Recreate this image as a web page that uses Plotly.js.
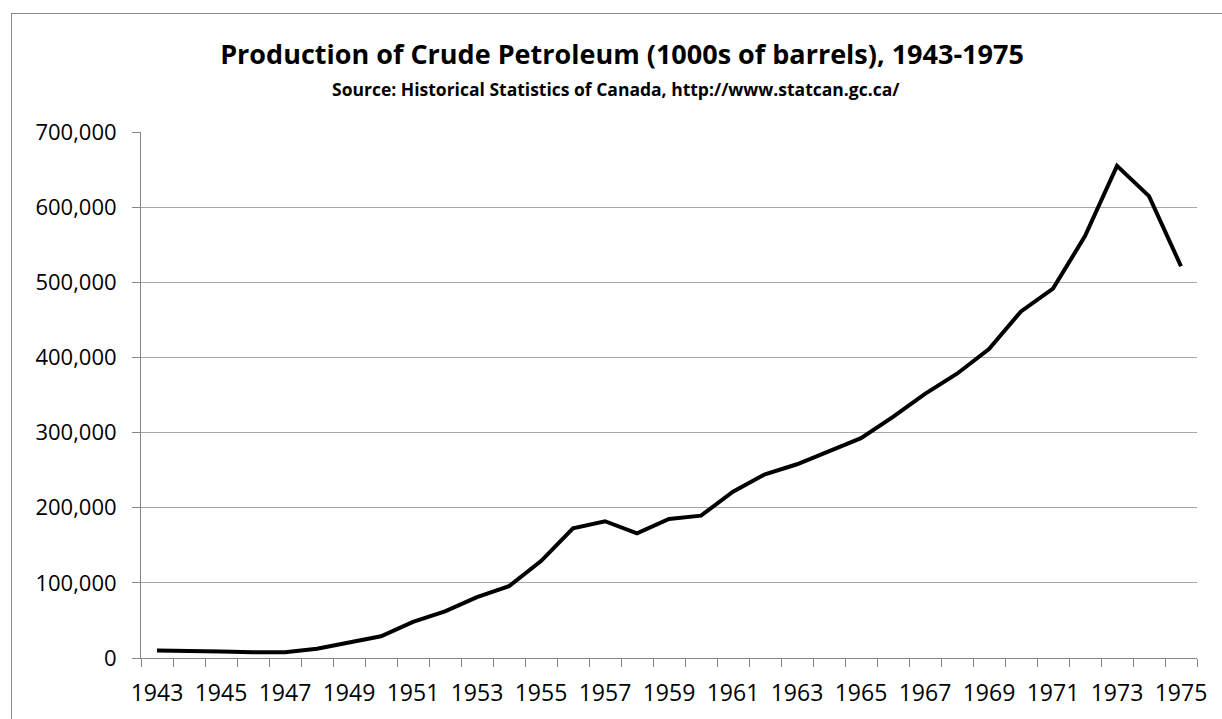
<!DOCTYPE html>
<html>
<head>
<meta charset="utf-8">
<script src="https://cdn.plot.ly/plotly-3.0.1.min.js"></script>
<style>
  html, body { margin: 0; padding: 0; background: #fff; }
  #wrap { position: relative; width: 1222px; height: 719px; overflow: hidden; }
  #chart { position: absolute; left: 0; top: 0; width: 1222px; height: 719px; }
  #frame { position: absolute; left: 11px; top: 13px; width: 1300px; height: 800px;
           border-left: 1px solid #8a8a8a; border-top: 1px solid #8a8a8a; pointer-events: none; }
</style>
</head>
<body>
<div id="wrap">
  <div id="chart"></div>
  <div id="frame"></div>
</div>
<script>
const years = ["1943","1944","1945","1946","1947","1948","1949","1950","1951","1952","1953",
               "1954","1955","1956","1957","1958","1959","1960","1961","1962","1963","1964",
               "1965","1966","1967","1968","1969","1970","1971","1972","1973","1974","1975"];
const production = [10000, 10000, 8700, 7500, 7600, 12400, 21300, 29000, 48000, 62000, 81000,
                    95600, 129000, 172500, 182000, 165800, 185000, 189400, 221400, 244500, 257800, 275600,
                    292500, 321000, 351600, 378300, 411000, 461300, 491600, 561400, 655000, 614700, 521400];
const tickLabels = years.map((y, i) => (i % 2 === 0 ? y : ""));
const titleText = "Production of Crude Petroleum (1000s of barrels), 1943-1975";
const subtitleText = "Source: Historical Statistics of Canada, http://www.statcan.gc.ca/";

const trace = {
  x: years,
  y: production,
  type: "scatter",
  mode: "lines",
  line: { color: "#000000", width: 4 },
  hoverinfo: "x+y"
};

const layout = {
  width: 1222,
  height: 719,
  margin: { l: 141, r: 25, t: 132, b: 61 },
  paper_bgcolor: "rgba(0,0,0,0)",
  plot_bgcolor: "#ffffff",
  showlegend: false,
  font: { family: "'Open Sans', sans-serif", color: "#000000" },
  title: {
    text: "<b>" + titleText + "</b>",
    font: { family: "'Open Sans', sans-serif", size: 27, color: "#000000" },
    x: 0.509, xref: "container", xanchor: "center",
    y: 0.9235, yref: "container", yanchor: "middle"
  },
  annotations: [{
    text: "<b>" + subtitleText + "</b>",
    font: { family: "'Open Sans', sans-serif", size: 17.5, color: "#000000" },
    xref: "paper", yref: "paper",
    x: 0.45, y: 1.0817, xanchor: "center", yanchor: "middle",
    showarrow: false
  }],
  xaxis: {
    type: "category",
    range: [-0.5, 32.5],
    tickmode: "array",
    tickvals: years,
    ticktext: tickLabels,
    tickson: "boundaries",
    ticks: "outside",
    ticklen: 8,
    tickwidth: 1,
    tickcolor: "#868686",
    showline: true,
    linecolor: "#868686",
    linewidth: 1,
    showgrid: false,
    zeroline: false,
    tickangle: 0,
    ticklabelstandoff: 14,
    tickfont: { family: "'Open Sans', sans-serif", size: 23, color: "#000000" },
    fixedrange: true
  },
  yaxis: {
    range: [0, 700000],
    tickmode: "linear",
    tick0: 0,
    dtick: 100000,
    tickformat: ",d",
    ticks: "outside",
    ticklen: 8,
    tickwidth: 1,
    tickcolor: "#868686",
    showline: true,
    linecolor: "#868686",
    linewidth: 1,
    showgrid: true,
    gridcolor: "#a6a6a6",
    gridwidth: 1,
    zeroline: false,
    ticklabelstandoff: 11,
    tickfont: { family: "'Open Sans', sans-serif", size: 22, color: "#000000" },
    fixedrange: true
  }
};

Plotly.newPlot("chart", [trace], layout, { displayModeBar: false, staticPlot: true });
</script>
</body>
</html>
